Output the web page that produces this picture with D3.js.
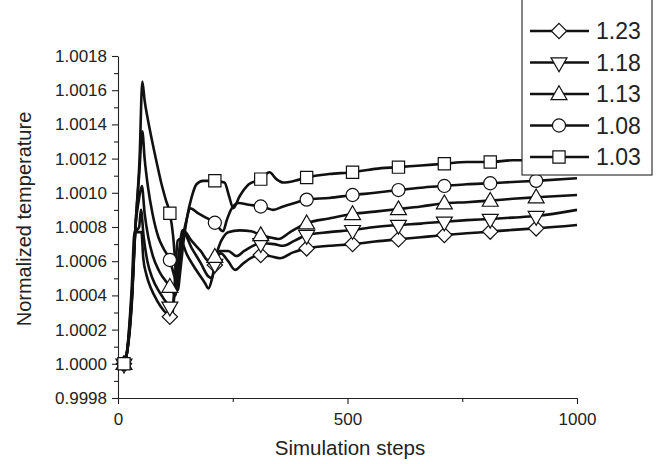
<!DOCTYPE html>
<html>
<head>
<meta charset="utf-8">
<script src="https://cdn.jsdelivr.net/npm/d3@7"></script>
<style>
  html, body { margin: 0; padding: 0; background: #fff; }
  svg { display: block; font-family: "Liberation Sans", Arial, sans-serif; }
</style>
</head>
<body>
<svg id="chart" width="658" height="464"></svg>
<script>
// ---- data ----
const seriesNames = ["1.23", "1.18", "1.13", "1.08", "1.03"];
const markerShapes = ["diamond", "triangleDown", "triangleUp", "circle", "square"];
const markerSteps = [13, 113, 211, 311, 411, 511, 611, 711, 811, 911];

const s123 = [[0,1.0],[13,1.0],[18,1.00004],[30,1.00045],[36,1.00077],[51,1.00077],[55,1.00062],[62,1.00052],[72,1.00044],[85,1.00037],[100,1.00031],[113,1.000275],[117,1.00026],[123,1.00045],[130,1.00072],[135,1.00073],[150,1.00064],[170,1.00055],[190,1.00047],[197,1.00044],[205,1.0005],[211,1.000578],[224,1.000646],[240,1.0006],[255,1.000549],[270,1.00058],[290,1.00062],[311,1.000636],[330,1.00063],[353,1.000617],[380,1.00065],[411,1.000675],[460,1.00069],[511,1.0007],[560,1.000715],[611,1.000728],[660,1.00074],[711,1.000753],[760,1.000763],[811,1.000773],[860,1.000783],[911,1.000792],[1000,1.000812]];
const s118 = [[0,1.0],[13,1.0],[18,1.00004],[30,1.00040],[38,1.00077],[46,1.0008],[50,1.0009],[56,1.00074],[64,1.00060],[75,1.00050],[90,1.00042],[113,1.000334],[118,1.00032],[125,1.00045],[135,1.00070],[140,1.00078],[160,1.00068],[180,1.00059],[197,1.00051],[205,1.0005],[211,1.000584],[222,1.00066],[240,1.00066],[258,1.00063],[275,1.00066],[311,1.000705],[340,1.00070],[360,1.00069],[385,1.00072],[411,1.000753],[460,1.00077],[511,1.000782],[560,1.0008],[611,1.000812],[660,1.00082],[711,1.000831],[760,1.00084],[811,1.000847],[860,1.000855],[911,1.000864],[1000,1.0009]];
const s113 = [[0,1.0],[13,1.0],[18,1.00004],[30,1.00038],[38,1.0008],[45,1.00095],[52,1.00104],[58,1.00088],[66,1.00074],[76,1.00063],[90,1.00054],[113,1.000451],[120,1.00042],[125,1.00040],[133,1.0006],[142,1.00078],[160,1.00072],[180,1.00066],[198,1.0006],[211,1.000626],[225,1.00072],[240,1.00077],[265,1.00078],[290,1.000775],[311,1.000753],[330,1.00074],[350,1.00073],[375,1.00077],[411,1.000822],[460,1.00085],[511,1.000876],[560,1.00089],[611,1.000905],[660,1.00092],[711,1.000939],[760,1.000945],[811,1.000954],[860,1.000965],[911,1.000974],[1000,1.000987]];
const s108 = [[0,1.0],[13,1.0],[18,1.00004],[30,1.00037],[38,1.0008],[46,1.0011],[53,1.00136],[58,1.00120],[65,1.00104],[75,1.00088],[88,1.00074],[100,1.00067],[113,1.000607],[122,1.00052],[128,1.00047],[134,1.00058],[142,1.00075],[150,1.00085],[157,1.00091],[175,1.00088],[195,1.00085],[211,1.000825],[229,1.000775],[237,1.00084],[246,1.0009],[262,1.00094],[285,1.00093],[311,1.00092],[325,1.00091],[338,1.0009],[360,1.00092],[385,1.00094],[411,1.00096],[460,1.00097],[511,1.000987],[560,1.0010],[611,1.001016],[660,1.00103],[711,1.00104],[760,1.00105],[811,1.001056],[860,1.001063],[911,1.00107],[1000,1.001085]];
const s103 = [[0,1.0],[13,1.0],[18,1.00004],[30,1.00035],[38,1.0008],[47,1.00120],[53,1.00165],[58,1.00154],[65,1.00143],[73,1.00132],[84,1.00118],[94,1.00106],[104,1.00096],[113,1.00088],[120,1.00075],[126,1.00055],[130,1.00043],[136,1.00055],[143,1.00072],[150,1.00085],[160,1.00097],[171,1.00105],[185,1.00107],[211,1.00107],[232,1.00106],[242,1.00098],[251,1.00091],[265,1.00098],[285,1.00105],[311,1.00108],[330,1.00112],[345,1.00108],[360,1.00106],[385,1.00107],[411,1.00109],[460,1.00111],[511,1.00112],[560,1.00114],[611,1.00115],[660,1.00116],[711,1.00117],[760,1.00118],[811,1.00118],[860,1.00119],[911,1.00119],[1000,1.0012]];
const seriesValues = [s123, s118, s113, s108, s103];

const xTickValues = [0, 500, 1000];
const xMinorTicks = [250, 750];
const yTickValues = [0.9998, 1.0000, 1.0002, 1.0004, 1.0006, 1.0008, 1.0010, 1.0012, 1.0014, 1.0016, 1.0018];
const yMinorTicks = [0.9999, 1.0001, 1.0003, 1.0005, 1.0007, 1.0009, 1.0011, 1.0013, 1.0015, 1.0017];
const xTitle = "Simulation steps";
const yTitle = "Normalized temperature";

// ---- layout ----
const svg = d3.select("#chart");
const x = d3.scaleLinear().domain([0, 1000]).range([118, 577]);
const y = d3.scaleLinear().domain([0.9998, 1.0018]).range([398, 56]);

const axisColor = "#222";

// axes
const gx = svg.append("g").attr("transform", "translate(0,398)");
gx.call(d3.axisBottom(x).tickValues(xTickValues).tickFormat(d3.format("d")).tickSizeInner(6).tickSizeOuter(0).tickPadding(9));
gx.append("g").call(d3.axisBottom(x).tickValues(xMinorTicks).tickFormat("").tickSizeInner(4).tickSizeOuter(0))
  .select(".domain").remove();

const gy = svg.append("g").attr("transform", "translate(118,0)");
gy.call(d3.axisLeft(y).tickValues(yTickValues).tickFormat(d3.format(".4f")).tickSizeInner(6).tickSizeOuter(0).tickPadding(5));
gy.append("g").call(d3.axisLeft(y).tickValues(yMinorTicks).tickFormat("").tickSizeInner(4).tickSizeOuter(0))
  .select(".domain").remove();

svg.selectAll(".domain, .tick line").attr("stroke", axisColor).attr("stroke-width", 1.1);
svg.selectAll(".tick text").attr("fill", "#222").style("font-size", "17px").style("font-family", "Liberation Sans, Arial, sans-serif");

// titles
svg.append("text").attr("x", 350).attr("y", 455).attr("text-anchor", "middle")
  .style("font-size", "20.5px").attr("fill", "#222").text(xTitle);
svg.append("text").attr("transform", "translate(31,219) rotate(-90)").attr("text-anchor", "middle")
  .style("font-size", "20px").attr("fill", "#222").text(yTitle);

// symbols
function symbolFor(shape) {
  switch (shape) {
    case "square": return d3.symbol().type(d3.symbolSquare).size(150);
    case "circle": return d3.symbol().type(d3.symbolCircle).size(135);
    case "triangleUp": return d3.symbol().type(d3.symbolTriangle).size(110);
    case "triangleDown": return d3.symbol().type(d3.symbolTriangle).size(110);
    case "diamond": return d3.symbol().type(d3.symbolDiamond2).size(150);
  }
}
function symbolTransform(shape, px, py) {
  if (shape === "triangleDown") return `translate(${px},${py}) rotate(180)`;
  if (shape === "triangleUp") return `translate(${px},${py + 1})`;
  return `translate(${px},${py})`;
}

const line = d3.line().x(d => x(d[0])).y(d => y(d[1])).curve(d3.curveMonotoneX);

const plot = svg.append("g");
seriesValues.forEach((vals, i) => {
  plot.append("path").datum(vals).attr("d", line)
    .attr("fill", "none").attr("stroke", "#111").attr("stroke-width", 2.6)
    .attr("stroke-linejoin", "round");
});
seriesValues.forEach((vals, i) => {
  const shape = markerShapes[i];
  const pts = vals.filter(d => markerSteps.includes(d[0]));
  plot.selectAll(null).data(pts).enter().append("path")
    .attr("d", symbolFor(shape)())
    .attr("transform", d => symbolTransform(shape, x(d[0]), y(d[1])))
    .attr("fill", "#fff").attr("stroke", "#111").attr("stroke-width", 1.2);
});

// legend
const lg = svg.append("g");
lg.append("rect").attr("x", 522).attr("y", -2).attr("width", 130).attr("height", 177)
  .attr("fill", "#fff").attr("stroke", "#222").attr("stroke-width", 1.1);
seriesNames.forEach((name, i) => {
  const cy = 31 + i * 31.5;
  lg.append("line").attr("x1", 530).attr("x2", 589).attr("y1", cy).attr("y2", cy)
    .attr("stroke", "#111").attr("stroke-width", 2.4);
  const shape = markerShapes[i];
  lg.append("path").attr("d", symbolFor(shape)()).attr("transform", symbolTransform(shape, 559, cy))
    .attr("fill", "#fff").attr("stroke", "#111").attr("stroke-width", 1.2);
  lg.append("text").attr("x", 596).attr("y", cy).attr("dy", "0.36em")
    .style("font-size", "23px").attr("fill", "#222").text(name);
});
</script>
</body>
</html>
